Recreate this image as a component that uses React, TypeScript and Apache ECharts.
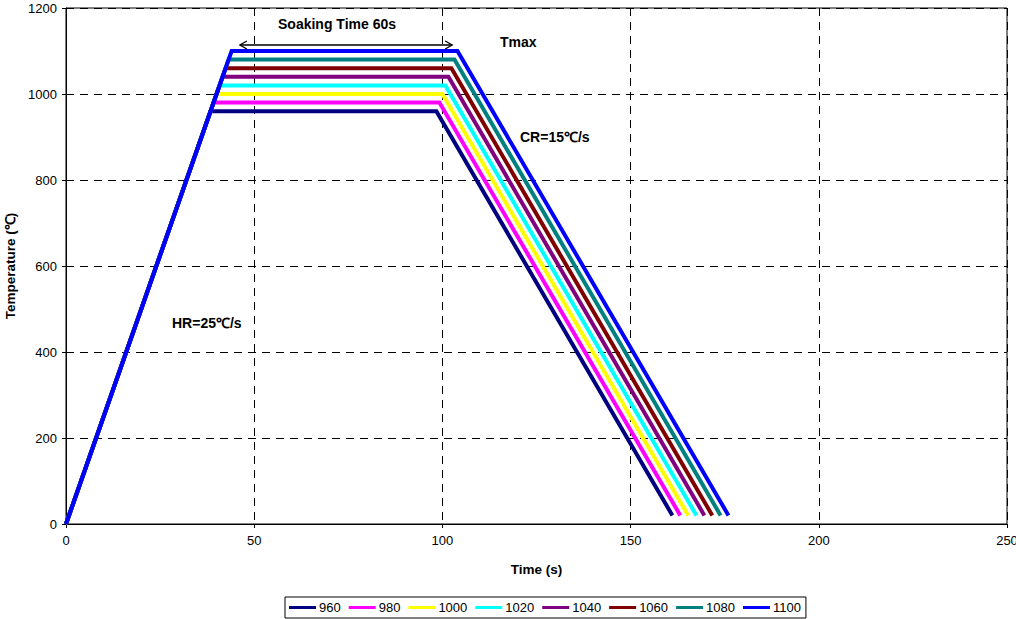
import React, { useEffect, useRef } from "react";
import * as echarts from "echarts";

// Peak temperatures (°C) of each thermal cycle
const peakTemps = ["960", "980", "1000", "1020", "1040", "1060", "1080", "1100"];
const lineColors = ["#000080", "#FF00FF", "#FFFF00", "#00FFFF", "#800080", "#800000", "#008080", "#0000FF"];

// Cycle profiles: [time (s), temperature (°C)] — heat, 60 s soak, cool to 20 °C
const cycle960 = [[0, 0], [38.4, 960], [98.4, 960], [161.1, 20]];
const cycle980 = [[0, 0], [39.2, 980], [99.2, 980], [163.2, 20]];
const cycle1000 = [[0, 0], [40.0, 1000], [100.0, 1000], [165.3, 20]];
const cycle1020 = [[0, 0], [40.8, 1020], [100.8, 1020], [167.5, 20]];
const cycle1040 = [[0, 0], [41.6, 1040], [101.6, 1040], [169.6, 20]];
const cycle1060 = [[0, 0], [42.4, 1060], [102.4, 1060], [171.7, 20]];
const cycle1080 = [[0, 0], [43.2, 1080], [103.2, 1080], [173.9, 20]];
const cycle1100 = [[0, 0], [44.0, 1100], [104.0, 1100], [176.0, 20]];
const cycles = [cycle960, cycle980, cycle1000, cycle1020, cycle1040, cycle1060, cycle1080, cycle1100];

// Soaking-time double arrow, in data coordinates
const soakArrow = [[46.2, 1114], [102.6, 1114]];

const FONT = "'Liberation Sans', Arial, sans-serif";

export default function App() {
  const ref = useRef<HTMLDivElement>(null);

  useEffect(() => {
    if (!ref.current) return;
    const chart = echarts.init(ref.current, undefined, { renderer: "svg" });

    const lineSeries = peakTemps.map((name, i) => ({
      name,
      type: "line",
      data: cycles[i],
      showSymbol: false,
      symbol: "none",
      lineStyle: { color: lineColors[i], width: 4, join: "miter" },
      itemStyle: { color: lineColors[i] },
      z: 2 + i,
    }));

    const arrowSeries = {
      type: "custom",
      silent: true,
      data: [0],
      z: 20,
      renderItem: (_params: any, api: any) => {
        const a = api.coord(soakArrow[0]);
        const b = api.coord(soakArrow[1]);
        const h = 7;
        const w = 4;
        const style = { stroke: "#000", lineWidth: 1.3, fill: "none" };
        return {
          type: "group",
          children: [
            { type: "line", shape: { x1: a[0], y1: a[1], x2: b[0], y2: b[1] }, style },
            { type: "polyline", shape: { points: [[a[0] + h, a[1] - w], [a[0], a[1]], [a[0] + h, a[1] + w]] }, style },
            { type: "polyline", shape: { points: [[b[0] - h, b[1] - w], [b[0], b[1]], [b[0] - h, b[1] + w]] }, style },
          ],
        };
      },
    };

    const labelStyle = { fontFamily: FONT, fontSize: 14, fontWeight: "bold", fill: "#000" };

    chart.setOption({
      animation: false,
      backgroundColor: "#fff",
      textStyle: { fontFamily: FONT },
      grid: {
        left: 66,
        right: 9,
        top: 8,
        bottom: 95,
        outerBoundsMode: "none",
        containLabel: false,
        show: true,
        borderColor: "#000",
        borderWidth: 1,
      },
      xAxis: {
        type: "value",
        min: 0,
        max: 250,
        interval: 50,
        name: "Time (s)",
        nameLocation: "middle",
        nameGap: 38,
        nameTextStyle: { fontFamily: FONT, fontSize: 13.5, fontWeight: "bold", color: "#000" },
        axisLine: { show: true, lineStyle: { color: "#000", width: 1 } },
        axisTick: { show: true, length: 4, lineStyle: { color: "#000" } },
        axisLabel: { fontFamily: FONT, fontSize: 13, color: "#000", margin: 10, formatter: (v: number) => String(v) },
        splitLine: { show: true, lineStyle: { color: "#000", type: [8, 6], width: 1 } },
      },
      yAxis: {
        type: "value",
        min: 0,
        max: 1200,
        interval: 200,
        name: "Temperature (℃)",
        nameLocation: "middle",
        nameGap: 49,
        nameTextStyle: { fontFamily: FONT, fontSize: 13.5, fontWeight: "bold", color: "#000" },
        axisLine: { show: true, lineStyle: { color: "#000", width: 1 } },
        axisTick: { show: true, length: 4, lineStyle: { color: "#000" } },
        axisLabel: { fontFamily: FONT, fontSize: 13, color: "#000", margin: 9, formatter: (v: number) => String(v) },
        splitLine: { show: true, lineStyle: { color: "#000", type: [8, 6], width: 1 } },
      },
      legend: {
        data: peakTemps,
        bottom: 1,
        left: 285,
        icon: "rect",
        itemWidth: 27,
        itemHeight: 3,
        itemGap: 8,
        padding: [4, 5, 4, 4],
        borderColor: "#000",
        borderWidth: 1,
        borderRadius: 0,
        textStyle: { fontFamily: FONT, fontSize: 13, color: "#000", padding: [0, 0, 0, -2] },
      },
      graphic: [
        { type: "text", left: 278, top: 17, style: { ...labelStyle, text: "Soaking Time 60s" } },
        { type: "text", left: 500, top: 35, style: { ...labelStyle, text: "Tmax" } },
        { type: "text", left: 520, top: 130, style: { ...labelStyle, text: "CR=15℃/s" } },
        { type: "text", left: 172, top: 316, style: { ...labelStyle, text: "HR=25℃/s" } },
      ],
      series: [...lineSeries, arrowSeries],
    });

    return () => chart.dispose();
  }, []);

  return <div ref={ref} style={{ width: 1016, height: 619, position: "absolute", left: 0, top: 0 }} />;
}
